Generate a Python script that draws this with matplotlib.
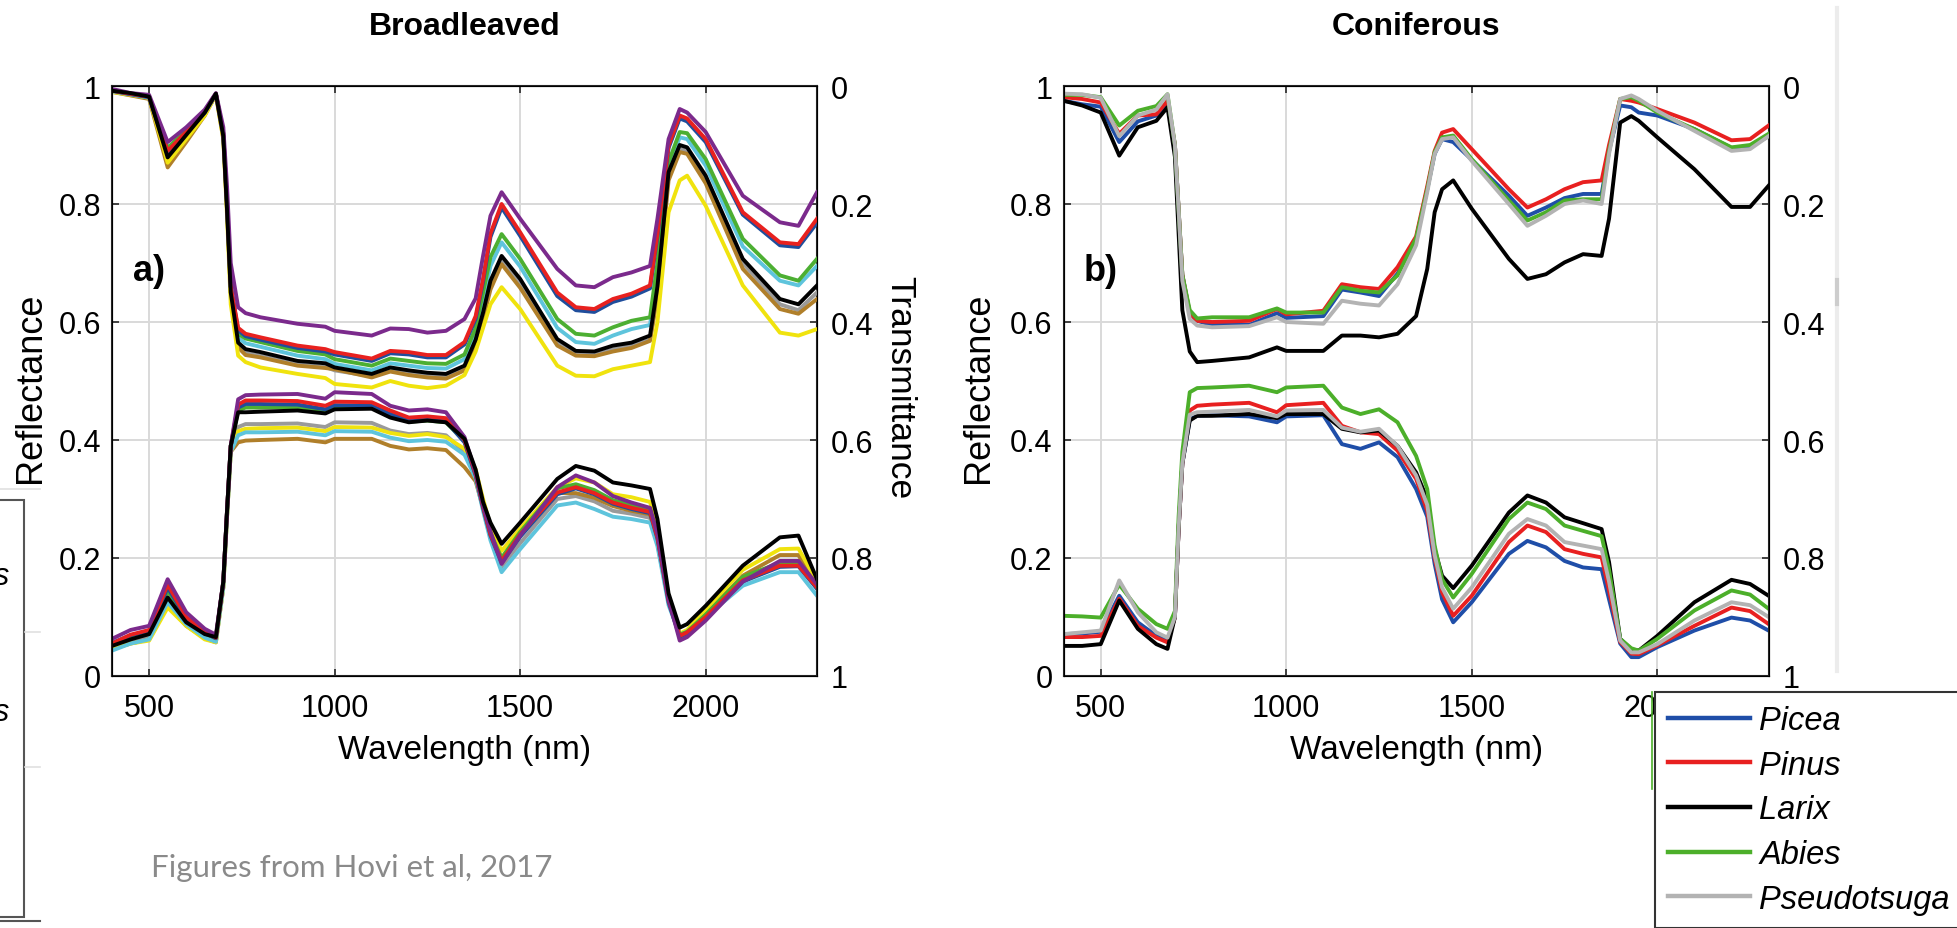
import matplotlib
matplotlib.use("Agg")
import matplotlib.pyplot as plt
from matplotlib.lines import Line2D
from matplotlib.patches import Rectangle

plt.rcParams['font.family'] = ['Liberation Sans', 'DejaVu Sans']

W, H = 1957, 929

wavelength = [400, 450, 500, 550, 600, 650, 680, 700, 710, 720, 740, 760, 800, 900, 975,
              1000, 1100, 1150, 1200, 1250, 1300, 1350, 1380, 1400, 1420, 1450, 1500, 1600,
              1650, 1700, 1750, 1800, 1850, 1870, 1900, 1930, 1950, 2000, 2100, 2200, 2250, 2300]

# ---- broadleaved genera (legend cut off in the source, so only colours are known)
broad_colors = ['#9a9a9a', '#b07f2a', '#f0e30e', '#5ec4dc', '#4caf32',
                '#1f4e9c', '#e8211f', '#7b2a8c', '#000000']

broad_trans = [
    # gray
    [.009, .014, .02, .125, .086, .047, .014, .087, .21, .35, .44, .452, .457, .472, .476, .482, .492, .481, .486, .49, .492, .478, .435, .39, .338, .296, .335, .436, .455, .456, .446, .44, .43, .35, .152, .106, .11, .16, .3, .37, .38, .35],
    # brown
    [.01, .016, .022, .138, .095, .05, .015, .09, .21, .35, .443, .456, .46, .474, .478, .48, .494, .484, .49, .494, .496, .482, .44, .395, .345, .302, .342, .44, .457, .458, .45, .444, .432, .355, .16, .112, .115, .165, .31, .378, .386, .361],
    # yellow
    [.01, .015, .02, .13, .09, .05, .015, .09, .22, .37, .457, .468, .477, .488, .495, .505, .511, .5, .508, .512, .508, .49, .45, .41, .37, .341, .378, .474, .491, .492, .48, .474, .468, .4, .214, .16, .152, .203, .338, .418, .423, .412],
    # cyan
    [.009, .014, .02, .11, .078, .045, .014, .082, .2, .34, .427, .436, .442, .457, .463, .471, .482, .47, .474, .478, .479, .463, .42, .362, .305, .265, .306, .41, .434, .437, .423, .412, .405, .315, .14, .087, .09, .135, .272, .33, .338, .305],
    # green
    [.008, .013, .018, .105, .075, .043, .013, .08, .2, .34, .42, .428, .434, .449, .455, .463, .474, .462, .466, .47, .471, .455, .41, .35, .29, .251, .293, .395, .42, .423, .409, .398, .392, .3, .129, .078, .08, .124, .259, .321, .33, .293],
    # blue
    [.008, .014, .019, .112, .08, .045, .014, .082, .2, .34, .414, .424, .43, .444, .45, .455, .466, .453, .455, .46, .46, .438, .395, .332, .256, .206, .254, .356, .38, .383, .366, .357, .343, .255, .105, .055, .06, .095, .218, .27, .273, .232],
    # red
    [.008, .013, .018, .11, .078, .043, .013, .08, .2, .34, .41, .42, .426, .44, .446, .451, .462, .449, .451, .456, .456, .434, .39, .327, .25, .2, .248, .35, .375, .378, .361, .352, .338, .25, .101, .05, .055, .09, .214, .265, .268, .225],
    # purple
    [.005, .012, .015, .095, .07, .04, .012, .07, .17, .30, .375, .385, .392, .403, .408, .415, .423, .411, .412, .418, .415, .395, .36, .288, .22, .18, .225, .31, .338, .341, .324, .316, .305, .225, .09, .039, .045, .078, .186, .231, .237, .18],
    # black
    [.008, .012, .018, .121, .083, .045, .013, .085, .21, .35, .435, .446, .451, .466, .47, .477, .488, .477, .482, .486, .488, .474, .43, .384, .33, .288, .327, .429, .449, .45, .44, .435, .423, .34, .146, .1, .104, .152, .293, .361, .37, .338],
]

broad_refl = [
    # gray
    [.05, .06, .068, .14, .094, .07, .062, .155, .27, .38, .422, .427, .427, .428, .422, .43, .429, .416, .41, .412, .408, .38, .338, .283, .235, .185, .225, .3, .305, .296, .28, .275, .268, .225, .125, .07, .075, .102, .162, .19, .19, .148],
    # brown
    [.046, .055, .062, .12, .085, .064, .057, .15, .27, .38, .396, .399, .4, .402, .396, .402, .402, .39, .384, .386, .383, .354, .33, .285, .24, .2, .24, .31, .31, .302, .288, .28, .274, .232, .128, .072, .075, .105, .17, .205, .205, .15],
    # yellow
    [.046, .055, .06, .116, .085, .062, .057, .15, .27, .38, .415, .419, .42, .421, .415, .422, .421, .412, .407, .41, .405, .385, .35, .3, .255, .212, .25, .32, .335, .328, .308, .303, .295, .25, .135, .072, .078, .113, .18, .215, .216, .16],
    # cyan
    [.043, .055, .062, .125, .088, .065, .058, .15, .27, .38, .408, .413, .413, .414, .408, .415, .414, .404, .398, .4, .397, .375, .335, .28, .23, .176, .215, .289, .294, .283, .27, .266, .26, .22, .12, .07, .075, .1, .153, .176, .176, .136],
    # green
    [.053, .066, .074, .145, .096, .072, .064, .16, .28, .39, .45, .455, .455, .456, .449, .456, .455, .441, .431, .433, .43, .398, .342, .288, .242, .2, .244, .318, .325, .315, .298, .29, .283, .238, .13, .07, .075, .104, .168, .192, .19, .15],
    # blue
    [.056, .069, .076, .15, .098, .073, .064, .16, .28, .39, .455, .461, .461, .46, .452, .459, .458, .444, .433, .435, .432, .396, .34, .285, .238, .192, .236, .308, .318, .308, .292, .283, .276, .233, .125, .066, .072, .098, .16, .185, .186, .148],
    # red
    [.055, .07, .078, .155, .1, .075, .065, .16, .28, .39, .46, .467, .467, .466, .458, .465, .464, .45, .438, .44, .437, .4, .342, .287, .24, .195, .24, .311, .32, .31, .294, .285, .278, .235, .128, .068, .074, .1, .162, .187, .187, .15],
    # purple
    [.063, .078, .085, .164, .108, .08, .07, .16, .28, .39, .469, .476, .477, .478, .47, .481, .478, .458, .45, .452, .447, .405, .345, .289, .245, .19, .238, .32, .34, .328, .305, .294, .285, .24, .13, .06, .066, .094, .16, .195, .195, .155],
    # black
    [.051, .062, .071, .133, .091, .071, .066, .16, .28, .39, .447, .447, .448, .45, .445, .452, .453, .438, .43, .433, .43, .402, .35, .295, .26, .224, .26, .334, .356, .348, .328, .323, .317, .266, .14, .082, .088, .119, .187, .235, .238, .164],
]

# ---- coniferous genera
conif_names = ['Picea', 'Pinus', 'Larix', 'Abies', 'Pseudotsuga']
conif_colors = ['#1f4ea8', '#e82020', '#000000', '#4caf2a', '#b3b3b3']

conif_trans = [
    [.025, .031, .035, .095, .06, .05, .03, .1, .21, .32, .385, .398, .405, .405, .385, .393, .39, .345, .35, .356, .318, .26, .175, .115, .09, .095, .125, .186, .22, .206, .19, .183, .183, .11, .033, .036, .045, .05, .073, .105, .103, .085],
    [.019, .022, .028, .081, .05, .048, .025, .1, .21, .32, .385, .398, .4, .398, .378, .387, .381, .336, .341, .344, .307, .255, .17, .11, .079, .073, .107, .175, .206, .192, .175, .163, .16, .1, .022, .025, .028, .039, .062, .092, .09, .067],
    [.025, .033, .045, .118, .07, .059, .036, .12, .25, .38, .45, .468, .466, .46, .443, .449, .449, .423, .423, .426, .42, .39, .31, .214, .175, .16, .208, .293, .327, .319, .299, .285, .288, .225, .062, .051, .059, .087, .141, .205, .205, .169],
    [.015, .015, .019, .067, .042, .034, .014, .1, .21, .32, .38, .394, .392, .392, .377, .384, .384, .341, .347, .35, .321, .258, .175, .112, .087, .084, .124, .194, .228, .214, .194, .192, .192, .11, .022, .019, .025, .045, .073, .104, .1, .081],
    [.013, .014, .02, .085, .05, .04, .014, .1, .21, .33, .395, .406, .409, .407, .392, .4, .403, .364, .369, .372, .336, .27, .18, .115, .09, .087, .127, .2, .237, .22, .2, .194, .2, .115, .022, .016, .022, .042, .076, .11, .107, .085],
]

conif_refl = [
    [.071, .072, .075, .136, .091, .068, .06, .1, .25, .36, .435, .441, .442, .44, .43, .44, .442, .393, .385, .396, .371, .317, .27, .19, .13, .091, .125, .207, .229, .218, .195, .184, .181, .13, .055, .032, .032, .049, .077, .099, .094, .077],
    [.066, .066, .068, .131, .085, .065, .057, .1, .25, .36, .45, .458, .46, .463, .447, .459, .463, .424, .413, .41, .382, .334, .28, .2, .142, .102, .136, .227, .255, .244, .215, .207, .201, .145, .058, .038, .037, .052, .085, .116, .11, .088],
    [.051, .051, .054, .128, .08, .054, .046, .1, .25, .36, .433, .441, .441, .444, .437, .444, .444, .419, .413, .416, .39, .345, .3, .215, .17, .149, .187, .277, .306, .294, .269, .259, .249, .193, .063, .045, .043, .068, .125, .163, .156, .136],
    [.102, .101, .099, .155, .114, .088, .08, .11, .27, .38, .481, .488, .489, .492, .481, .489, .492, .455, .444, .452, .43, .373, .317, .221, .164, .133, .173, .266, .294, .283, .255, .246, .237, .18, .063, .047, .043, .063, .111, .145, .138, .114],
    [.071, .074, .077, .162, .108, .074, .065, .1, .25, .36, .443, .447, .448, .451, .44, .45, .451, .421, .414, .419, .39, .34, .29, .205, .15, .114, .15, .241, .266, .255, .227, .221, .215, .16, .06, .04, .04, .054, .094, .125, .12, .1],
]

ytick_vals = [0, 0.2, 0.4, 0.6, 0.8, 1]
ytick_text = ['0', '0.2', '0.4', '0.6', '0.8', '1']
xtick_vals = [500, 1000, 1500, 2000]

fig = plt.figure(figsize=(W / 100, H / 100), dpi=100)


def make_panel(left_px, title, letter, refl, trans, colors, show_tlabel):
    ax = fig.add_axes([left_px / W, 1 - 677 / H, 705 / W, 590 / H])
    ax.set_xlim(400, 2300)
    ax.set_ylim(0, 1)
    ax.set_xticks(xtick_vals)
    ax.set_yticks(ytick_vals)
    ax.set_yticklabels(ytick_text)
    ax.grid(True, color='#d9d9d9', lw=1.4)
    ax.set_axisbelow(True)
    ax.tick_params(axis='both', direction='in', length=5, width=1.2, top=True,
                   labelsize=22, color='#262626')
    ax.tick_params(axis='y', pad=8)
    ax.tick_params(axis='x', pad=12)
    for s in ax.spines.values():
        s.set_color('#262626')
        s.set_linewidth(1.5)

    tw = ax.twinx()
    tw.set_ylim(1, 0)
    tw.set_yticks(ytick_vals)
    tw.set_yticklabels(ytick_text)
    tw.tick_params(axis='y', direction='in', length=5, width=1.2, labelsize=22,
                   pad=10, color='#262626')

    for r, c in zip(refl, colors):
        ax.plot(wavelength, r, color=c, lw=2.8, solid_joinstyle='round')
    for t, c in zip(trans, colors):
        tw.plot(wavelength, t, color=c, lw=2.8, solid_joinstyle='round')

    ax.set_xlabel('Wavelength (nm)', fontsize=24, va='center')
    ax.xaxis.set_label_coords(0.5, -0.124)
    ax.set_ylabel('Reflectance', fontsize=26, va='center')
    ax.yaxis.set_label_coords(-0.115 if show_tlabel else -0.121, 0.49)
    if show_tlabel:
        tw.set_ylabel('Transmittance', fontsize=25.5, rotation=270, va='center')
        tw.yaxis.set_label_coords(1.118, 0.49)

    ax.text(0.5, 1.1017, title, transform=ax.transAxes, ha='center', va='center',
            fontsize=23, fontweight='bold')
    ax.text(501, 0.688, letter, ha='center', va='center', fontsize=26, fontweight='bold')
    return ax, tw


make_panel(112, 'Broadleaved', 'a)', broad_refl, broad_trans, broad_colors, True)
make_panel(1063.6, 'Coniferous', 'b)', conif_refl, conif_trans, conif_colors, False)

# legend of the coniferous panel (box from x 1655, y 693; runs off the right/bottom edge)
handles = [Line2D([], [], color=c, lw=3.2) for c in conif_colors]
leg = fig.legend(handles, conif_names, loc='upper left',
                 bbox_to_anchor=(1655 / W, 1 - 929 / H, 307 / W, 236 / H), mode='expand',
                 prop={'style': 'italic', 'size': 23.5}, handlelength=2.5, handletextpad=0.3,
                 labelspacing=0.42, borderpad=0.4, borderaxespad=0, fancybox=False,
                 framealpha=1, edgecolor='#333333')
leg.get_frame().set_linewidth(1.5)

fig.text(151 / W, 1 - 877 / H, 'Figures from Hovi et al, 2017', color='#8a8a8a',
         fontsize=22.5, family=['Lato', 'DejaVu Sans'], va='baseline')


# pieces of the neighbouring slide content visible at the edges
def fig_line(xs, ys, **kw):
    fig.add_artist(Line2D([x / W for x in xs], [1 - y / H for y in ys],
                          transform=fig.transFigure, **kw))


fig.add_artist(Rectangle((-10 / W, 1 - 918 / H), 34 / W, 417 / H, fill=False,
                         edgecolor='#555555', lw=1.5, transform=fig.transFigure))
fig_line([0, 40], [490, 490], color='#e0e0e0', lw=1.2)
fig_line([25, 40], [633, 633], color='#e0e0e0', lw=1.2)
fig_line([25, 40], [768, 768], color='#e0e0e0', lw=1.2)
fig_line([0, 40], [922, 922], color='#555555', lw=1.5)
for yy in (577, 713):
    fig.text(9 / W, 1 - yy / H, 's', ha='right', va='center', fontsize=22, style='italic')

fig_line([1837, 1837], [9, 672], color='#ececec', lw=3)
fig_line([1837, 1837], [281, 305], color='#cdcdcd', lw=3)
fig_line([1652, 1652], [693, 790], color='#4caf2a', lw=1.2)

fig.savefig('out.png', dpi=100)
